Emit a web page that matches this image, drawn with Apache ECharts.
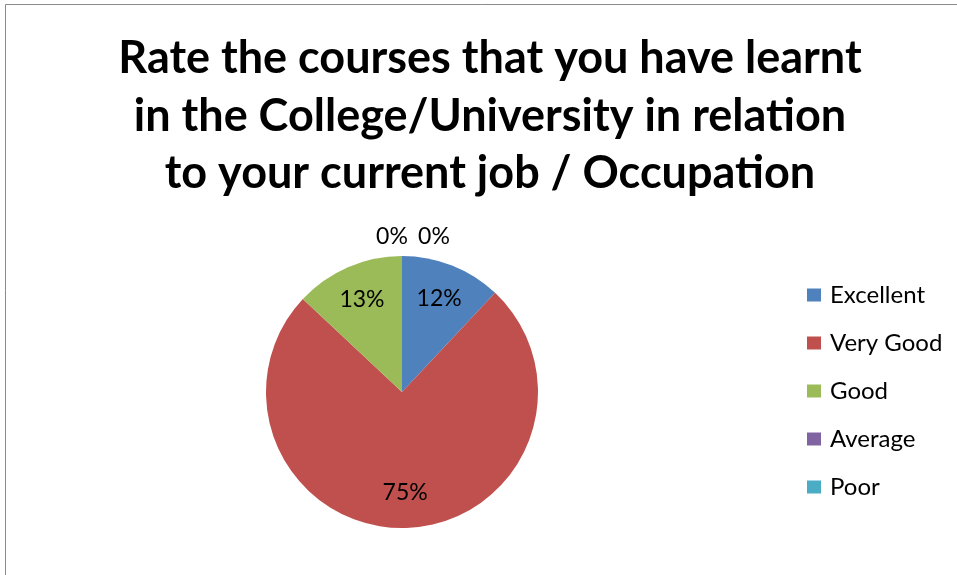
<!DOCTYPE html>
<html>
<head>
<meta charset="utf-8">
<script src="https://cdn.jsdelivr.net/npm/echarts@6/dist/echarts.min.js"></script>
<style>
  html, body { margin: 0; padding: 0; background: #fff; }
  #chart { width: 957px; height: 575px; }
</style>
</head>
<body>
<div id="chart"></div>
<script>
// rating categories and share of answers (%)
const categories = ['Excellent', 'Very Good', 'Good', 'Average', 'Poor'];
const values = [12, 75, 13, 0, 0];
const colors = ['#4F81BD', '#C0504D', '#9BBB59', '#8064A2', '#4BACC6'];
const titleText = 'Rate the courses that you have learnt\nin the College/University in relation\nto your current job / Occupation';

const font = 'Lato, "Open Sans", sans-serif';
const cx = 402, cy = 392, radius = 136;

const chart = echarts.init(document.getElementById('chart'));

const option = {
    backgroundColor: '#fff',
    color: colors,
    animation: false,
    title: {
        text: titleText,
        left: 490,
        top: 30,
        padding: 0,
        textAlign: 'center',
        textStyle: {
            fontFamily: font,
            fontWeight: 'bold',
            fontSize: 45,
            lineHeight: 57.5,
            color: '#000'
        }
    },
    legend: {
        orient: 'vertical',
        left: 807,
        top: 283,
        padding: 0,
        itemWidth: 14,
        itemHeight: 13,
        itemGap: 24,
        icon: 'rect',
        data: categories,
        textStyle: {
            fontFamily: font,
            fontSize: 24,
            color: '#000',
            padding: [0, 0, 0, 4]
        }
    },
    // plot border (top and left edges visible)
    graphic: [{
        type: 'rect',
        shape: { x: 5.5, y: 4.5, width: 1200, height: 1200 },
        style: { fill: 'none', stroke: '#8a8a8a', lineWidth: 1 },
        silent: true
    }],
    series: [{
        type: 'pie',
        center: [cx, cy],
        radius: [0, radius],
        startAngle: 90,
        clockwise: true,
        avoidLabelOverlap: false,
        label: {
            show: true,
            position: 'inside',
            formatter: '{d}%',
            fontFamily: font,
            fontSize: 23,
            color: '#000'
        },
        labelLine: { show: false },
        emphasis: { disabled: true },
        data: categories.map((name, i) => ({ name: name, value: values[i] })),
        labelLayout: function (params) {
            const r = params.labelRect;
            const lx = r.x + r.width / 2;
            const ly = r.y + r.height / 2;
            const v = values[params.dataIndex];
            if (v > 0) {
                // push inside labels out to ~0.72 of the radius
                const k = 1.42;
                return { dx: (lx - cx) * (k - 1), dy: (ly - cy) * (k - 1) };
            }
            // zero slices sit at the top, labels just above the rim
            const k = 155 / Math.max(1, cy - ly);
            const shift = params.dataIndex === 3 ? -10 : 32;
            return { dx: (cx - lx) + shift, dy: (ly - cy) * (k - 1) };
        }
    }]
};

chart.setOption(option);
</script>
</body>
</html>
